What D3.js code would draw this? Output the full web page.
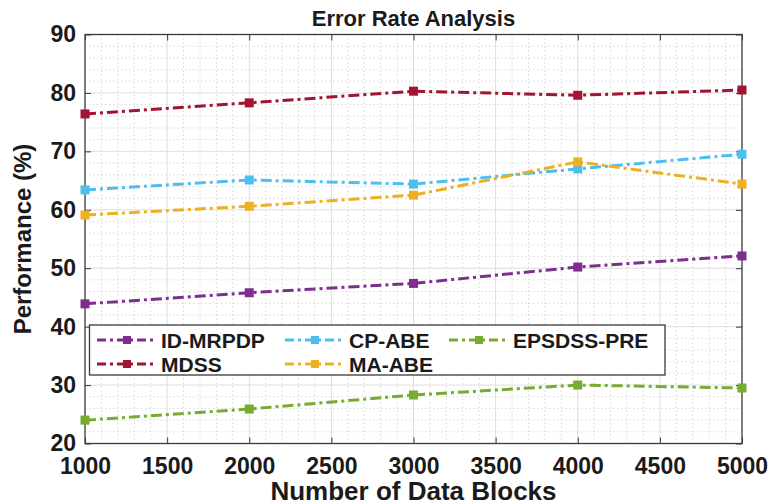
<!DOCTYPE html>
<html>
<head>
<meta charset="utf-8">
<script src="https://cdn.jsdelivr.net/npm/d3@7"></script>
<style>
  html, body { margin: 0; padding: 0; background: #fff; }
  svg { display: block; font-family: 'Liberation Sans', Arial, sans-serif; font-weight: bold; }
</style>
</head>
<body>
<div id="chart"></div>
<script>
// data
const blocks = [1000, 2000, 3000, 4000, 5000]
const idMrpdp = [43.9, 45.8, 47.4, 50.2, 52.1]
const cpAbe = [63.4, 65.1, 64.4, 67.0, 69.5]
const epsdssPre = [24.0, 25.9, 28.3, 30.0, 29.5]
const mdss = [76.4, 78.3, 80.3, 79.6, 80.5]
const maAbe = [59.1, 60.6, 62.5, 68.2, 64.4]
const xTicks = [1000, 1500, 2000, 2500, 3000, 3500, 4000, 4500, 5000]
const yTicks = [20, 30, 40, 50, 60, 70, 80, 90]

const series = [
  { name: 'ID-MRPDP', values: idMrpdp, color: '#7E2F8E' },
  { name: 'CP-ABE', values: cpAbe, color: '#4DBEEE' },
  { name: 'EPSDSS-PRE', values: epsdssPre, color: '#77AC30' },
  { name: 'MDSS', values: mdss, color: '#A2142F' },
  { name: 'MA-ABE', values: maAbe, color: '#EDB120' }
]

const W = 771, H = 503
const pLeft = 85, pRight = 742, pTop = 34.5, pBottom = 443.5

const x = d3.scaleLinear().domain([1000, 5000]).range([pLeft, pRight])
const y = d3.scaleLinear().domain([20, 90]).range([pBottom, pTop])

const svg = d3.select('#chart').append('svg')
  .attr('width', W)
  .attr('height', H)

// plot background
svg.append('rect')
  .attr('x', pLeft).attr('y', pTop)
  .attr('width', pRight - pLeft).attr('height', pBottom - pTop)
  .attr('fill', '#fff')

// minor grid (dotted)
const gMinor = svg.append('g')
  .attr('stroke', '#cfcfcf')
  .attr('stroke-width', 0.8)
  .attr('stroke-dasharray', '1.5,2.5')
d3.range(1100, 5000, 100).filter(v => v % 500 !== 0).forEach(v => {
  gMinor.append('line').attr('x1', x(v)).attr('x2', x(v)).attr('y1', pTop).attr('y2', pBottom)
})
d3.range(22, 90, 2).filter(v => v % 10 !== 0).forEach(v => {
  gMinor.append('line').attr('x1', pLeft).attr('x2', pRight).attr('y1', y(v)).attr('y2', y(v))
})

// major grid
const gMajor = svg.append('g')
  .attr('stroke', '#dedede')
  .attr('stroke-width', 1)
xTicks.slice(1, -1).forEach(v => {
  gMajor.append('line').attr('x1', x(v)).attr('x2', x(v)).attr('y1', pTop).attr('y2', pBottom)
})
yTicks.slice(1, -1).forEach(v => {
  gMajor.append('line').attr('x1', pLeft).attr('x2', pRight).attr('y1', y(v)).attr('y2', y(v))
})

// axes, ticks inward on all sides
const axisColor = '#3a3a3a'
const tickLen = 6
svg.append('g')
  .attr('transform', `translate(0,${pBottom})`)
  .call(d3.axisBottom(x).tickValues(xTicks).tickSize(-tickLen).tickPadding(14).tickFormat(d3.format('d')))
  .call(g => g.select('.domain').remove())
svg.append('g')
  .attr('transform', `translate(${pLeft},0)`)
  .call(d3.axisLeft(y).tickValues(yTicks).tickSize(-tickLen).tickPadding(9))
  .call(g => g.select('.domain').remove())
svg.append('g')
  .attr('transform', `translate(0,${pTop})`)
  .call(d3.axisTop(x).tickValues(xTicks).tickSize(-tickLen).tickFormat(''))
  .call(g => g.select('.domain').remove())
svg.append('g')
  .attr('transform', `translate(${pRight},0)`)
  .call(d3.axisRight(y).tickValues(yTicks).tickSize(-tickLen).tickFormat(''))
  .call(g => g.select('.domain').remove())

svg.selectAll('.tick line').attr('stroke', axisColor).attr('stroke-width', 1)
svg.selectAll('.tick text')
  .attr('fill', '#1a1a1a')
  .style('font-size', '23px')
  .style('font-weight', 'bold')
  .style('font-family', "'Liberation Sans', Arial, sans-serif")

svg.append('rect')
  .attr('x', pLeft).attr('y', pTop)
  .attr('width', pRight - pLeft).attr('height', pBottom - pTop)
  .attr('fill', 'none')
  .attr('stroke', axisColor)
  .attr('stroke-width', 1.3)

// lines
const line = d3.line()
  .x((d, i) => x(blocks[i]))
  .y(d => y(d))

const gSeries = svg.append('g')
series.forEach(s => {
  gSeries.append('path')
    .datum(s.values)
    .attr('fill', 'none')
    .attr('stroke', s.color)
    .attr('stroke-width', 3)
    .attr('stroke-dasharray', '11,4,3,4')
    .attr('d', line)
  gSeries.selectAll(null)
    .data(s.values)
    .enter().append('rect')
    .attr('x', (d, i) => x(blocks[i]) - 4.5)
    .attr('y', d => y(d) - 4.5)
    .attr('width', 9)
    .attr('height', 9)
    .attr('fill', s.color)
})

// legend
const legendX = 89.5, legendY = 325, legendW = 575.5, legendH = 50
const legend = svg.append('g')
legend.append('rect')
  .attr('x', legendX).attr('y', legendY)
  .attr('width', legendW).attr('height', legendH)
  .attr('fill', '#fff')
  .attr('stroke', axisColor)
  .attr('stroke-width', 1.3)

const colX = [97, 285, 449]
const rowY = [340, 364]
series.forEach((s, i) => {
  const cx = colX[i % 3], cy = rowY[Math.floor(i / 3)]
  legend.append('line')
    .attr('x1', cx).attr('x2', cx + 60)
    .attr('y1', cy).attr('y2', cy)
    .attr('stroke', s.color)
    .attr('stroke-width', 3)
    .attr('stroke-dasharray', '9,4,3,4')
  legend.append('rect')
    .attr('x', cx + 30 - 4).attr('y', cy - 4)
    .attr('width', 8).attr('height', 8)
    .attr('fill', s.color)
  legend.append('text')
    .attr('x', cx + 64)
    .attr('y', cy)
    .attr('dy', '0.36em')
    .style('font-size', '21px')
    .attr('fill', '#1a1a1a')
    .text(s.name)
})

// title and axis labels
svg.append('text')
  .attr('x', (pLeft + pRight) / 2)
  .attr('y', 26)
  .attr('text-anchor', 'middle')
  .style('font-size', '22px')
  .attr('fill', '#1a1a1a')
  .text('Error Rate Analysis')

svg.append('text')
  .attr('x', (pLeft + pRight) / 2)
  .attr('y', 500)
  .attr('text-anchor', 'middle')
  .style('font-size', '26px')
  .attr('fill', '#1a1a1a')
  .text('Number of Data Blocks')

svg.append('text')
  .attr('transform', `translate(31,${(pTop + pBottom) / 2}) rotate(-90)`)
  .attr('text-anchor', 'middle')
  .style('font-size', '24px')
  .attr('fill', '#1a1a1a')
  .text('Performance (%)')
</script>
</body>
</html>
